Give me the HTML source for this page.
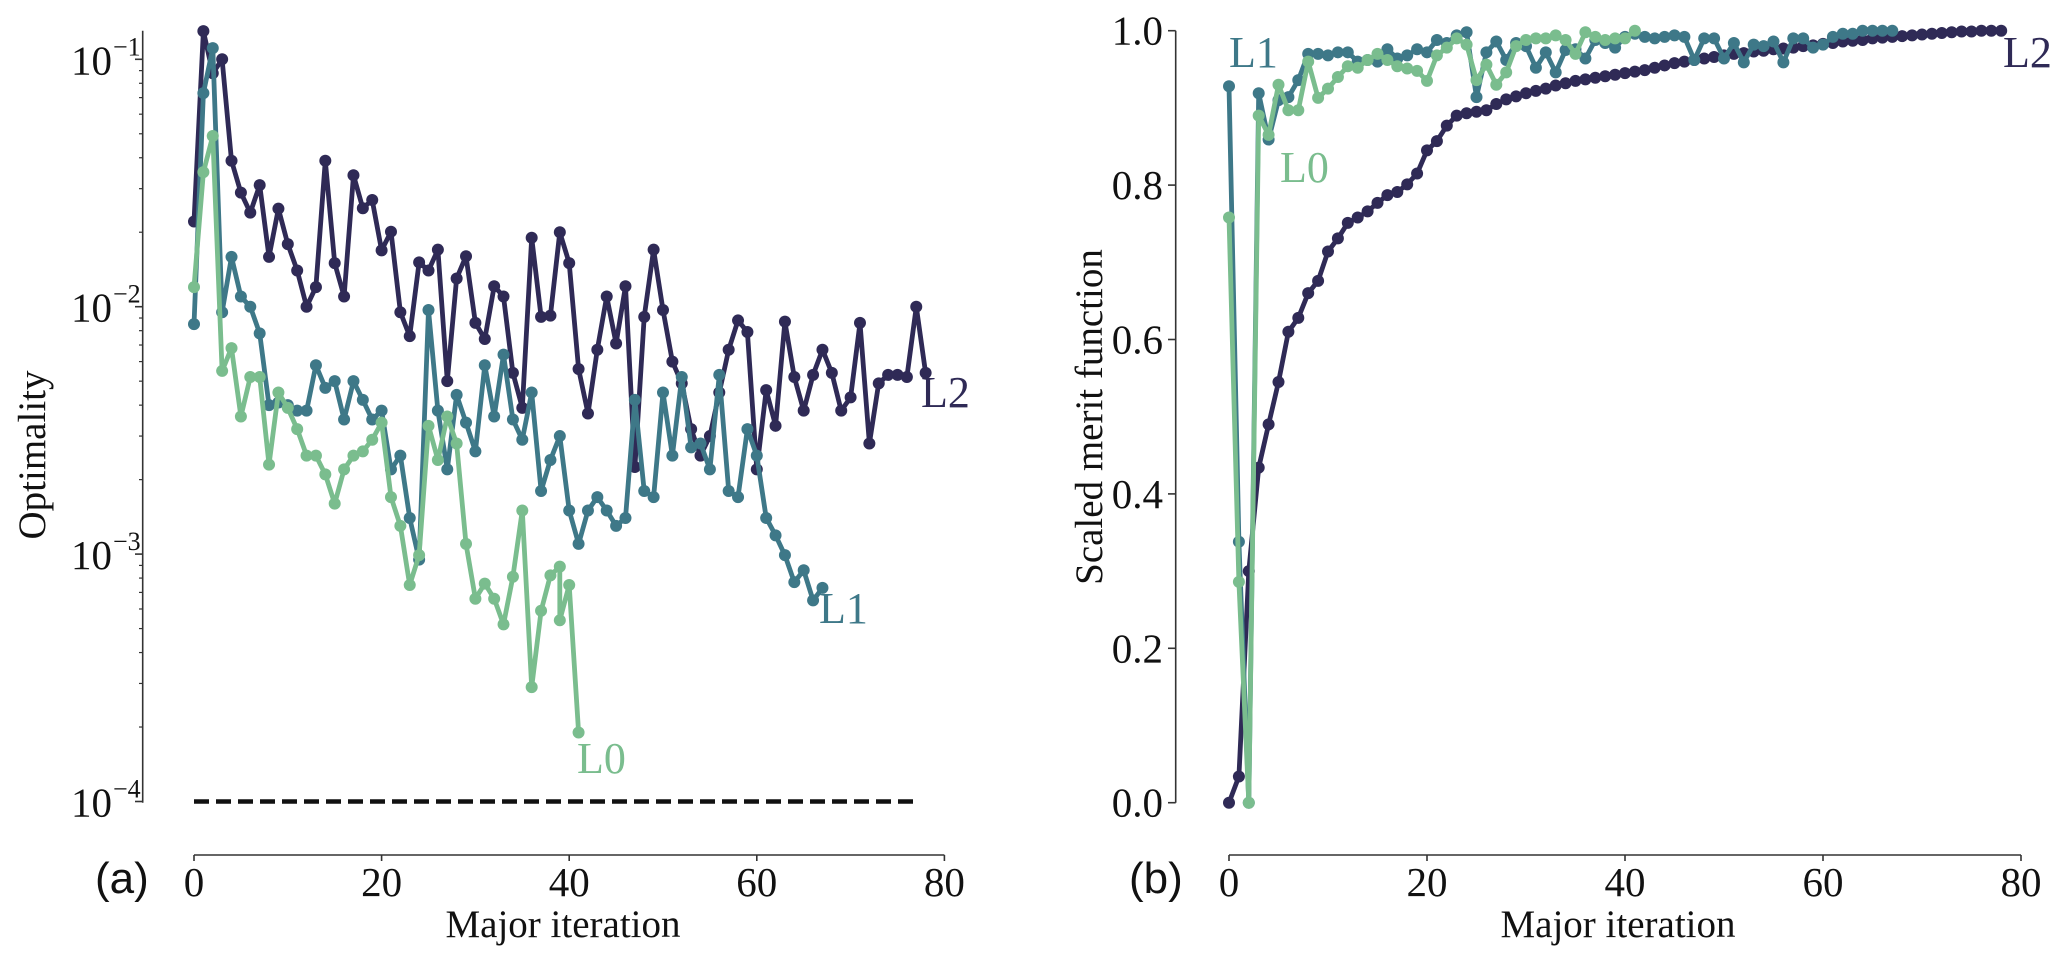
<!DOCTYPE html>
<html><head><meta charset="utf-8"><style>
html,body{margin:0;padding:0;background:#fff}
svg{display:block}
text{font-family:"Liberation Serif",serif;fill:#111}
</style></head><body>
<svg id="fig" width="2067" height="962" viewBox="0 0 2067 962" xmlns="http://www.w3.org/2000/svg">
<g id="axA"></g>
<g id="axB"></g>
</svg>
<script>
// ---- Panel (a) data: optimality (log scale) ----
const xTicks = [0, 20, 40, 60, 80];
const optL2 = [0.0221,0.130,0.0878,0.100,0.0389,0.0289,0.024,0.031,0.0159,0.0249,0.0179,0.0140,0.0100,0.0120,0.0389,0.0150,0.011,0.034,0.025,0.027,0.0169,0.0201,0.0095,0.0076,0.0151,0.0140,0.0170,0.0050,0.0130,0.0160,0.0086,0.0074,0.0121,0.0110,0.0054,0.0039,0.019,0.0091,0.0092,0.020,0.0150,0.0056,0.0037,0.0067,0.0110,0.0071,0.0121,0.00225,0.0091,0.0170,0.0097,0.0060,0.0049,0.0032,0.0025,0.0030,0.0045,0.0067,0.0088,0.0079,0.0022,0.0046,0.0033,0.0087,0.0052,0.0038,0.0053,0.0067,0.0054,0.0038,0.0043,0.0086,0.0028,0.0049,0.0053,0.0053,0.0052,0.0100,0.0054];
const optL1 = [0.0085,0.073,0.111,0.0095,0.0159,0.011,0.0100,0.0078,0.0040,0.0041,0.0040,0.0038,0.0038,0.0058,0.0047,0.0050,0.0035,0.0050,0.0042,0.0035,0.0038,0.0022,0.0025,0.0014,0.00095,0.0097,0.0038,0.0022,0.0044,0.0034,0.0026,0.0058,0.0036,0.0064,0.0035,0.0029,0.0045,0.0018,0.0024,0.0030,0.0015,0.0011,0.0015,0.0017,0.0015,0.0013,0.0014,0.0042,0.0018,0.0017,0.0045,0.0025,0.0052,0.0027,0.0028,0.0022,0.0053,0.0018,0.0017,0.0032,0.0025,0.0014,0.00119,0.00099,0.00077,0.00086,0.00065,0.00073];
const optL0Iter = [0,1,2,3,4,5,6,7,8,9,10,11,12,13,14,15,16,17,18,19,20,21,22,23,24,25,26,27,28,29,30,31,32,33,34,35,36,37,38,39,39,40,41];
const optL0 = [0.0120,0.035,0.049,0.0055,0.0068,0.0036,0.0052,0.0052,0.0023,0.0045,0.0039,0.0032,0.0025,0.0025,0.0021,0.0016,0.0022,0.0025,0.0026,0.0029,0.0034,0.0017,0.0013,0.00075,0.00099,0.0033,0.0024,0.0036,0.0028,0.0011,0.00066,0.00076,0.00066,0.00052,0.00081,0.0015,0.00029,0.00059,0.00082,0.00089,0.00054,0.00075,0.00019];
const optTolerance = 1e-4;
const optTolStart = 0, optTolEnd = 77;
const logDecades = [-1, -2, -3, -4];
// ---- Panel (b) data: scaled merit function ----
const meritL2 = [0.0,0.034,0.30,0.434,0.49,0.545,0.61,0.628,0.66,0.676,0.714,0.731,0.751,0.758,0.766,0.777,0.787,0.791,0.801,0.815,0.845,0.857,0.877,0.89,0.893,0.895,0.897,0.905,0.911,0.915,0.919,0.922,0.925,0.929,0.932,0.935,0.937,0.939,0.941,0.943,0.945,0.947,0.949,0.952,0.955,0.958,0.960,0.962,0.964,0.966,0.968,0.970,0.971,0.973,0.974,0.976,0.977,0.978,0.980,0.981,0.983,0.984,0.986,0.987,0.988,0.990,0.991,0.992,0.993,0.994,0.995,0.996,0.997,0.998,0.999,0.999,1.0,1.0,1.0];
const meritL1 = [0.928,0.338,0.0,0.919,0.859,0.91,0.914,0.936,0.97,0.97,0.968,0.972,0.972,0.96,0.962,0.96,0.976,0.964,0.968,0.976,0.972,0.988,0.984,0.994,0.998,0.914,0.972,0.986,0.962,0.984,0.98,0.952,0.972,0.946,0.975,0.976,0.964,0.988,0.984,0.978,0.992,0.996,0.992,0.99,0.992,0.994,0.992,0.962,0.99,0.99,0.964,0.984,0.959,0.982,0.98,0.986,0.959,0.99,0.99,0.978,0.982,0.992,0.996,0.996,1.0,1.0,1.0,1.0];
const meritL0 = [0.758,0.286,0.0,0.89,0.865,0.93,0.897,0.897,0.96,0.913,0.925,0.94,0.954,0.952,0.962,0.97,0.962,0.954,0.951,0.948,0.935,0.968,0.978,0.99,0.982,0.936,0.956,0.93,0.946,0.98,0.988,0.99,0.99,0.994,0.988,0.97,0.998,0.992,0.988,0.99,0.99,1.0];
const meritTicks = [0.0, 0.2, 0.4, 0.6, 0.8, 1.0];

const C2 = '#2f2a56', C1 = '#3e7888', C0 = '#7abd8e';
const NS = 'http://www.w3.org/2000/svg';
function mk(tag, attrs, parent){const e=document.createElementNS(NS,tag);for(const k in attrs)e.setAttribute(k,attrs[k]);parent.appendChild(e);return e;}

const xA = i => 194 + 9.38*i;
const yA = v => 59.3 - (Math.log10(v) + 1) * 247.4;
const xB = i => 1229 + 9.9*i;
const yB = v => 802.7 - 772*v;

function series(parent, xs, ys, fx, fy, color, name){
  const g = mk('g', {}, parent);
  
  
  const pts = ys.map((v,k)=>fx(xs?xs[k]:k).toFixed(1)+','+fy(v).toFixed(1)).join(' ');
  const pl = mk('polyline', {points:pts, fill:'none', stroke:color, 'stroke-width':4.8, 'stroke-linejoin':'round'}, g);
  
  
  ys.forEach((v,k)=>{
    const c = mk('circle', {cx:fx(xs?xs[k]:k), cy:fy(v), r:6, fill:color}, g);
    
    
  });
}

// ---------- Panel A ----------
const A = document.getElementById('axA');
let e = mk('line', {x1:142.7, y1:30.7, x2:142.7, y2:802.7, stroke:'#333', 'stroke-width':1.6}, A);


logDecades.forEach(d=>{
  const y = yA(Math.pow(10,d));
  const t = mk('line', {x1:135, y1:y, x2:142.7, y2:y, stroke:'#333', 'stroke-width':1.6}, A);
  
  
  const lab = mk('text', {x:112, y:y+15, 'font-size':41, 'text-anchor':'end'}, A);
  lab.textContent = '10';
  
  
  const sup = mk('text', {x:113, y:y-4, 'font-size':26, 'text-anchor':'start'}, A);
  sup.textContent = '\u2212' + (-d);
  
  
  if (d > -4) {
    for (let m=2; m<=9; m++){
      const ym = yA(m*Math.pow(10,d-1));
      const mt = mk('line', {x1:139, y1:ym, x2:142.7, y2:ym, stroke:'#333', 'stroke-width':1.2}, A);
      
      
    }
  }
});
e = mk('line', {x1:xA(0), y1:855, x2:xA(80), y2:855, stroke:'#333', 'stroke-width':1.6}, A);


xTicks.forEach(t=>{
  const tk = mk('line', {x1:xA(t), y1:855, x2:xA(t), y2:861, stroke:'#333', 'stroke-width':1.6}, A);
  
  
  const lab = mk('text', {x:xA(t), y:896, 'font-size':41, 'text-anchor':'middle'}, A);
  lab.textContent = t;
  
  
});
e = mk('text', {x:563, y:937, 'font-size':39, 'text-anchor':'middle'}, A);
e.textContent = 'Major iteration';


e = mk('text', {x:45, y:455, 'font-size':39, 'text-anchor':'middle', transform:'rotate(-90 45 455)'}, A);
e.textContent = 'Optimality';


e = mk('text', {x:95, y:893, 'font-size':44, style:'font-family:"Liberation Sans",sans-serif'}, A);
e.textContent = '(a)';


e = mk('line', {x1:xA(optTolStart), y1:yA(optTolerance), x2:xA(optTolEnd), y2:yA(optTolerance), stroke:'#111', 'stroke-width':4.4, 'stroke-dasharray':'15,7'}, A);


series(A, null, optL2, xA, yA, C2, 'optimality-l2');
series(A, null, optL1, xA, yA, C1, 'optimality-l1');
series(A, optL0Iter, optL0, xA, yA, C0, 'optimality-l0');
[['L2',921,407,C2],['L1',819,623,C1],['L0',577,773,C0]].forEach(l=>{
  const t = mk('text', {x:l[1], y:l[2], 'font-size':44, style:'fill:'+l[3]}, A);
  t.textContent = l[0];
  
  
});

// ---------- Panel B ----------
const B = document.getElementById('axB');
e = mk('line', {x1:1175.7, y1:30.7, x2:1175.7, y2:802.7, stroke:'#333', 'stroke-width':1.6}, B);


meritTicks.forEach(v=>{
  const y = yB(v);
  const t = mk('line', {x1:1168, y1:y, x2:1175.7, y2:y, stroke:'#333', 'stroke-width':1.6}, B);
  
  
  const lab = mk('text', {x:1163, y:y+14, 'font-size':41, 'text-anchor':'end'}, B);
  lab.textContent = v.toFixed(1);
  
  
});
e = mk('line', {x1:xB(0), y1:855, x2:xB(80), y2:855, stroke:'#333', 'stroke-width':1.6}, B);


xTicks.forEach(t=>{
  const tk = mk('line', {x1:xB(t), y1:855, x2:xB(t), y2:861, stroke:'#333', 'stroke-width':1.6}, B);
  
  
  const lab = mk('text', {x:xB(t), y:896, 'font-size':41, 'text-anchor':'middle'}, B);
  lab.textContent = t;
  
  
});
e = mk('text', {x:1618, y:937, 'font-size':39, 'text-anchor':'middle'}, B);
e.textContent = 'Major iteration';


e = mk('text', {x:1102, y:417, 'font-size':39, 'text-anchor':'middle', transform:'rotate(-90 1102 417)'}, B);
e.textContent = 'Scaled merit function';


e = mk('text', {x:1129, y:893, 'font-size':44, style:'font-family:"Liberation Sans",sans-serif'}, B);
e.textContent = '(b)';


series(B, null, meritL2, xB, yB, C2, 'merit-l2');
series(B, null, meritL1, xB, yB, C1, 'merit-l1');
series(B, null, meritL0, xB, yB, C0, 'merit-l0');
[['L2',2003,67,C2],['L1',1229,67,C1],['L0',1280,182,C0]].forEach(l=>{
  const t = mk('text', {x:l[1], y:l[2], 'font-size':44, style:'fill:'+l[3]}, B);
  t.textContent = l[0];
  
  
});
</script>
</body></html>
